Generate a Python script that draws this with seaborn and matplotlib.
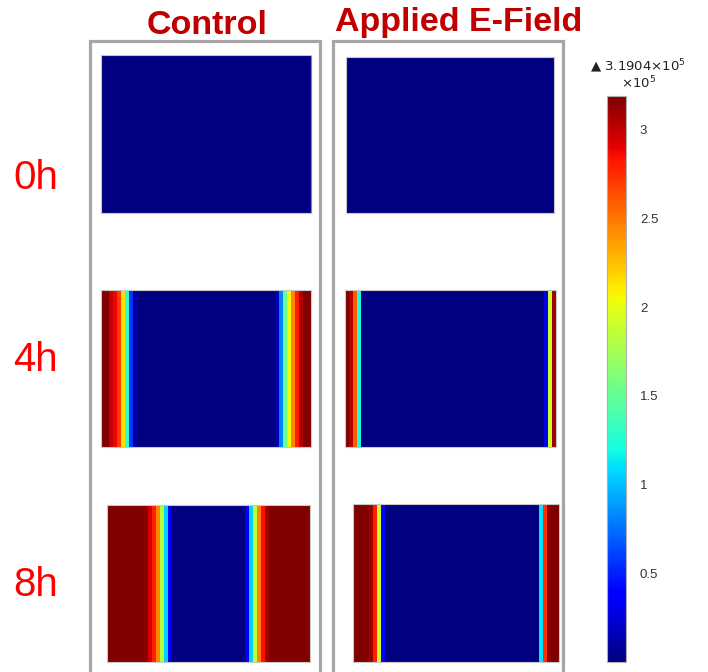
import matplotlib
matplotlib.use("Agg")
import matplotlib.pyplot as plt
from matplotlib.patches import Rectangle
import numpy as np
import pandas as pd
import seaborn as sns

# profile values across each panel (left -> right), units of 1e5
control_0h = [0.0, 0.0, 0.0, 0.0, 0.0, 0.0, 0.0, 0.0, 0.0, 0.0]
control_4h = [3.19, 3.17, 3.0, 2.88, 2.7, 2.15, 1.3, 0.55, 0.1,
              0.0, 0.0, 0.0, 0.0, 0.0, 0.0, 0.0, 0.0, 0.0, 0.0, 0.0, 0.0,
              0.0, 0.0, 0.0, 0.0, 0.0, 0.0, 0.0, 0.0, 0.0, 0.0, 0.0, 0.0,
              0.0, 0.0, 0.0, 0.0, 0.0, 0.0, 0.0, 0.0, 0.0, 0.0,
              0.15, 0.8, 1.5, 2.05, 2.45, 2.8, 3.05, 3.17, 3.19]
control_8h = [3.19, 3.19, 3.19, 3.19, 3.19, 3.19, 3.19, 3.19, 3.19,
              3.15, 2.95, 2.8, 2.45, 1.8, 1.05, 0.35,
              0.0, 0.0, 0.0, 0.0, 0.0, 0.0, 0.0, 0.0, 0.0,
              0.0, 0.0, 0.0, 0.0, 0.0, 0.0, 0.0, 0.0, 0.0,
              0.3, 1.05, 1.85, 2.45, 2.85, 3.1,
              3.19, 3.19, 3.19, 3.19, 3.19, 3.19, 3.19, 3.19, 3.19, 3.19]
efield_0h = [0.0, 0.0, 0.0, 0.0, 0.0, 0.0, 0.0, 0.0, 0.0, 0.0]
efield_4h = [3.19, 3.05, 2.6, 1.2,
             0.0, 0.0, 0.0, 0.0, 0.0, 0.0, 0.0, 0.0, 0.0, 0.0, 0.0, 0.0,
             0.0, 0.0, 0.0, 0.0, 0.0, 0.0, 0.0, 0.0, 0.0, 0.0, 0.0, 0.0,
             0.0, 0.0, 0.0, 0.0, 0.0, 0.0, 0.0, 0.0, 0.0, 0.0, 0.0, 0.0,
             0.0, 0.0, 0.0, 0.0, 0.0, 0.0, 0.0, 0.0, 0.0,
             0.3, 1.9, 3.1]
efield_8h = [3.19, 3.19, 3.19, 3.19, 3.1, 2.8, 1.9, 0.4,
             0.0, 0.0, 0.0, 0.0, 0.0, 0.0, 0.0, 0.0, 0.0, 0.0,
             0.0, 0.0, 0.0, 0.0, 0.0, 0.0, 0.0, 0.0, 0.0, 0.0,
             0.0, 0.0, 0.0, 0.0, 0.0, 0.0, 0.0, 0.0, 0.0, 0.0,
             0.0, 0.0, 0.0, 0.0, 0.0, 0.0, 0.0, 0.0,
             1.1, 2.75, 3.15, 3.19, 3.19]

conditions = ["Control", "Applied E-Field"]
times = ["0h", "4h", "8h"]
vmax = 3.1904
cbar_ticks = [0.5, 1, 1.5, 2, 2.5, 3]
cbar_ticklabels = ["0.5", "1", "1.5", "2", "2.5", "3"]

profiles = {
    ("Control", "0h"): control_0h, ("Control", "4h"): control_4h,
    ("Control", "8h"): control_8h, ("Applied E-Field", "0h"): efield_0h,
    ("Applied E-Field", "4h"): efield_4h, ("Applied E-Field", "8h"): efield_8h,
}

W, H = 708, 672

def px_rect(x0, y0, x1, y1):
    return [x0 / W, 1 - y1 / H, (x1 - x0) / W, (y1 - y0) / H]

# panel boxes in pixels (x0, y0, x1, y1)
panel_px = {
    ("Control", "0h"): (101, 55, 311, 213),
    ("Control", "4h"): (101, 290, 311, 447),
    ("Control", "8h"): (107, 505, 310, 662),
    ("Applied E-Field", "0h"): (346, 57, 554, 213),
    ("Applied E-Field", "4h"): (345, 290, 556, 447),
    ("Applied E-Field", "8h"): (353, 504, 559, 662),
}

sns.set_style("white")
plt.rcParams["font.family"] = ["Liberation Sans", "DejaVu Sans"]

fig = plt.figure(figsize=(7.08, 6.72), dpi=100)

# gray frames around each column
for x0, x1 in [(90, 320), (333, 563)]:
    fig.patches.append(Rectangle((x0 / W, -0.05), (x1 - x0) / W, 1.05 - 40.5 / H,
                                 transform=fig.transFigure, fill=False,
                                 edgecolor="#a6a6a6", linewidth=2.3))

mesh = None
for (cond, t), prof in profiles.items():
    ax = fig.add_axes(px_rect(*panel_px[(cond, t)]))
    df = pd.DataFrame([prof])
    sns.heatmap(df, ax=ax, cmap="jet", vmin=0, vmax=vmax, cbar=False,
                xticklabels=False, yticklabels=False)
    for sp in ax.spines.values():
        sp.set_visible(True)
        sp.set_color("#c8c8c8")
        sp.set_linewidth(0.8)
    if (cond, t) == ("Control", "0h"):
        ax.spines["right"].set_color("#e06060")
    mesh = ax.collections[0]

# column titles
fig.text(207 / W, 1 - 26 / H, conditions[0], ha="center", va="center",
         fontsize=24.5, fontweight="bold", color="#c00000")
fig.text(459 / W, 1 - 23 / H, conditions[1], ha="center", va="center",
         fontsize=24.5, fontweight="bold", color="#c00000")

# row labels
for t, yc in zip(times, [178, 360, 585]):
    fig.text(13 / W, 1 - yc / H, t, ha="left", va="center",
             fontsize=29, color="#ff0000")

# colour bar
cax = fig.add_axes(px_rect(607, 96, 626, 662))
cb = fig.colorbar(mesh, cax=cax)
cb.set_ticks(cbar_ticks)
cb.set_ticklabels(cbar_ticklabels)
cb.ax.tick_params(direction="in", length=4, width=0.8, color="#333333",
                  left=True, right=True, labelsize=9.5, labelcolor="#333333",
                  pad=10)
cb.outline.set_edgecolor("#b0b0b0")
cb.outline.set_linewidth(0.8)

fig.text(590 / W, 1 - 66 / H, "\u25b2 3.1904\u00d710$^{5}$", ha="left",
         va="center", fontsize=9.5, color="#222222",
         family=["DejaVu Sans"])
fig.text(639 / W, 1 - 83 / H, "\u00d710$^{5}$", ha="center", va="center",
         fontsize=9.5, color="#222222", family=["DejaVu Sans"])

fig.savefig("out.png", dpi=100)
